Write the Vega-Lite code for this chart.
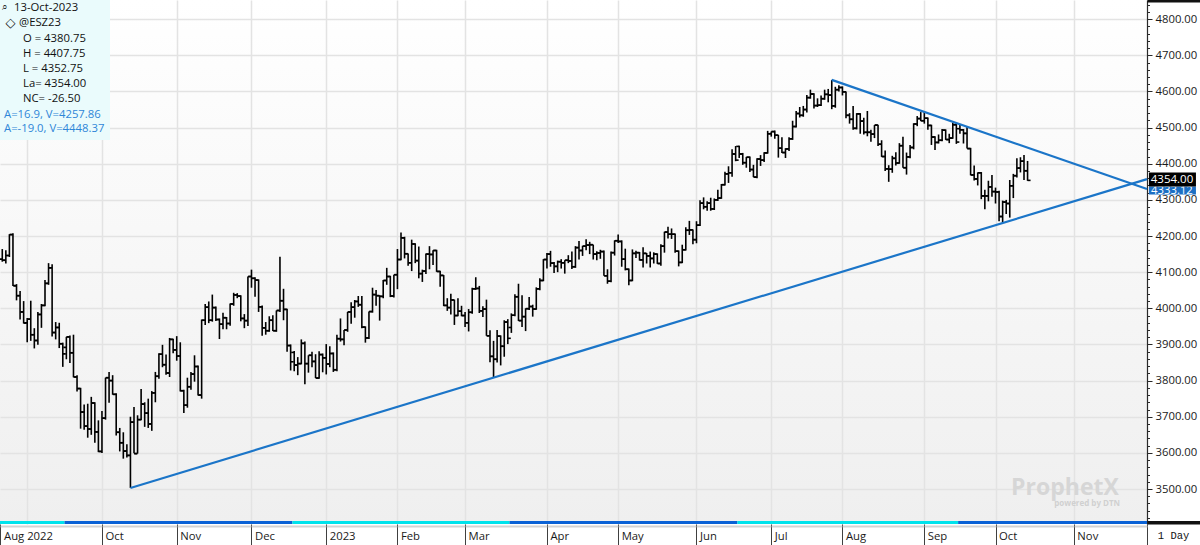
{
"$schema":"https://vega.github.io/schema/vega-lite/v6.json",
"width":1147,"height":524,
"autosize":{"type":"none"},
"padding":{"left":0,"top":0,"right":53,"bottom":21},
"background":"#ffffff",
"config":{"view":{"stroke":null,"fill":{"gradient":"linear","x1":0,"y1":0,"x2":0,"y2":1,"stops":[{"offset":0,"color":"#ffffff"},{"offset":1,"color":"#efefef"}]}},"font":"Open Sans"},
"datasets":{
"contracts":[{"a":-7.64,"b":10.5,"k":"c"},{"a":10.5,"b":74.5,"k":"b"},{"a":74.5,"b":135.5,"k":"c"},{"a":135.5,"b":199.5,"k":"b"},{"a":199.5,"b":261.5,"k":"c"},{"a":261.5,"b":314.55,"k":"b"}],
"lines":[{"k":"lo","i":29,"p":3503},{"k":"lo","i":314.55,"p":4357.5},{"k":"up","i":226,"p":4632},{"k":"up","i":314.55,"p":4330}],
"bars":[
{"i":-7,"o":4136,"h":4164,"l":4129,"c":4133},{"i":-6,"o":4133,"h":4161,"l":4124,"c":4146},{"i":-5,"o":4146,"h":4205,"l":4142,"c":4204},{"i":-4,"o":4204,"h":4208,"l":4062,"c":4063},{"i":-3,"o":4062,"h":4067,"l":4022,"c":4035},{"i":-2,"o":4035,"h":4048,"l":3969,"c":3990},{"i":-1,"o":3990,"h":4020,"l":3958,"c":3959},
{"i":0,"o":3960,"h":3973,"l":3906,"c":3970},{"i":1,"o":3970,"h":4021,"l":3910,"c":3927},{"i":2,"o":3927,"h":3945,"l":3889,"c":3911},{"i":3,"o":3911,"h":3990,"l":3899,"c":3983},{"i":4,"o":3983,"h":4012,"l":3946,"c":4008},{"i":5,"o":4008,"h":4078,"l":4006,"c":4069},{"i":6,"o":4069,"h":4125,"l":4065,"c":4112},{"i":7,"o":4112,"h":4122,"l":3922,"c":3933},{"i":8,"o":3933,"h":3962,"l":3914,"c":3947},{"i":9,"o":3947,"h":3960,"l":3890,"c":3902},{"i":10,"o":3902,"h":3905,"l":3838,"c":3874},
{"i":11,"o":3892,"h":3921,"l":3859,"c":3921},{"i":12,"o":3921,"h":3925,"l":3849,"c":3877},{"i":13,"o":3877,"h":3927,"l":3809,"c":3810},{"i":14,"o":3810,"h":3815,"l":3770,"c":3778},{"i":15,"o":3778,"h":3780,"l":3667,"c":3713},{"i":16,"o":3713,"h":3734,"l":3664,"c":3674},{"i":17,"o":3674,"h":3736,"l":3642,"c":3666},{"i":18,"o":3666,"h":3755,"l":3650,"c":3738},{"i":19,"o":3738,"h":3740,"l":3628,"c":3658},{"i":20,"o":3658,"h":3690,"l":3602,"c":3604},
{"i":21,"o":3604,"h":3716,"l":3600,"c":3696},{"i":22,"o":3696,"h":3808,"l":3692,"c":3808},{"i":23,"o":3808,"h":3824,"l":3739,"c":3800},{"i":24,"o":3800,"h":3815,"l":3761,"c":3762},{"i":25,"o":3762,"h":3765,"l":3648,"c":3657},{"i":26,"o":3657,"h":3669,"l":3604,"c":3628},{"i":27,"o":3628,"h":3657,"l":3584,"c":3605},{"i":28,"o":3605,"h":3624,"l":3587,"c":3593},{"i":29,"o":3593,"h":3700,"l":3503,"c":3685},{"i":30,"o":3685,"h":3727,"l":3599,"c":3598},{"i":31,"o":3598,"h":3704,"l":3598,"c":3692},{"i":32,"o":3692,"h":3777,"l":3690,"c":3735},{"i":33,"o":3735,"h":3740,"l":3672,"c":3710},{"i":34,"o":3710,"h":3750,"l":3669,"c":3680},{"i":35,"o":3680,"h":3771,"l":3661,"c":3766},{"i":36,"o":3766,"h":3824,"l":3740,"c":3812},{"i":37,"o":3812,"h":3876,"l":3805,"c":3873},{"i":38,"o":3873,"h":3899,"l":3837,"c":3844},{"i":39,"o":3844,"h":3872,"l":3816,"c":3821},{"i":40,"o":3821,"h":3918,"l":3810,"c":3914},{"i":41,"o":3914,"h":3916,"l":3876,"c":3885},
{"i":42,"o":3885,"h":3923,"l":3855,"c":3868},{"i":43,"o":3868,"h":3906,"l":3770,"c":3772},{"i":44,"o":3772,"h":3775,"l":3710,"c":3732},{"i":45,"o":3732,"h":3808,"l":3725,"c":3783},{"i":46,"o":3783,"h":3824,"l":3775,"c":3818},{"i":47,"o":3818,"h":3870,"l":3797,"c":3839},{"i":48,"o":3839,"h":3842,"l":3759,"c":3760},{"i":49,"o":3760,"h":3969,"l":3750,"c":3967},{"i":50,"o":3967,"h":4012,"l":3954,"c":4003},{"i":51,"o":4003,"h":4019,"l":3959,"c":3967},{"i":52,"o":3967,"h":4038,"l":3963,"c":4002},{"i":53,"o":4002,"h":4005,"l":3965,"c":3969},{"i":54,"o":3969,"h":3972,"l":3915,"c":3956},{"i":55,"o":3956,"h":3988,"l":3942,"c":3974},{"i":56,"o":3974,"h":3976,"l":3942,"c":3958},{"i":57,"o":3958,"h":4013,"l":3952,"c":4012},{"i":58,"o":4012,"h":4043,"l":4007,"c":4037},{"i":59,"o":4037,"h":4042,"l":4028,"c":4034},{"i":60,"o":4034,"h":4036,"l":3964,"c":3972},{"i":61,"o":3972,"h":3984,"l":3945,"c":3966},{"i":62,"o":3966,"h":4088,"l":3951,"c":4088},
{"i":63,"o":4088,"h":4107,"l":4057,"c":4083},{"i":64,"o":4083,"h":4086,"l":4032,"c":4078},{"i":65,"o":4078,"h":4080,"l":3990,"c":4004},{"i":66,"o":4004,"h":4008,"l":3924,"c":3946},{"i":67,"o":3946,"h":3962,"l":3927,"c":3938},{"i":68,"o":3938,"h":3978,"l":3935,"c":3967},{"i":69,"o":3967,"h":3981,"l":3937,"c":3938},{"i":70,"o":3938,"h":3994,"l":3935,"c":3994},{"i":71,"o":3994,"h":4143,"l":3990,"c":4021},{"i":72,"o":4021,"h":4054,"l":3967,"c":3997},{"i":73,"o":3997,"h":3999,"l":3880,"c":3897},{"i":74,"o":3897,"h":3900,"l":3828,"c":3852},
{"i":75,"o":3878,"h":3882,"l":3826,"c":3843},{"i":76,"o":3843,"h":3865,"l":3815,"c":3847},{"i":77,"o":3847,"h":3914,"l":3845,"c":3903},{"i":78,"o":3903,"h":3908,"l":3790,"c":3847},{"i":79,"o":3847,"h":3870,"l":3822,"c":3870},{"i":80,"o":3870,"h":3880,"l":3837,"c":3853},{"i":81,"o":3853,"h":3873,"l":3807,"c":3807},{"i":82,"o":3807,"h":3881,"l":3805,"c":3872},{"i":83,"o":3872,"h":3875,"l":3823,"c":3863},
{"i":84,"o":3863,"h":3901,"l":3817,"c":3846},{"i":85,"o":3846,"h":3895,"l":3837,"c":3875},{"i":86,"o":3875,"h":3878,"l":3824,"c":3830},{"i":87,"o":3830,"h":3927,"l":3826,"c":3916},{"i":88,"o":3916,"h":3972,"l":3908,"c":3914},{"i":89,"o":3914,"h":3940,"l":3898,"c":3940},{"i":90,"o":3940,"h":3990,"l":3935,"c":3990},{"i":91,"o":3990,"h":4017,"l":3957,"c":4003},{"i":92,"o":4003,"h":4023,"l":3974,"c":4019},{"i":93,"o":4019,"h":4034,"l":4004,"c":4010},{"i":94,"o":4010,"h":4034,"l":3945,"c":3948},{"i":95,"o":3948,"h":3950,"l":3905,"c":3918},{"i":96,"o":3918,"h":3991,"l":3915,"c":3991},{"i":97,"o":3991,"h":4057,"l":3988,"c":4038},{"i":98,"o":4038,"h":4051,"l":4007,"c":4035},{"i":99,"o":4035,"h":4036,"l":3966,"c":4033},{"i":100,"o":4033,"h":4078,"l":4028,"c":4077},{"i":101,"o":4077,"h":4112,"l":4065,"c":4088},{"i":102,"o":4088,"h":4090,"l":4031,"c":4034},{"i":103,"o":4034,"h":4093,"l":4030,"c":4093},
{"i":104,"o":4093,"h":4164,"l":4053,"c":4135},{"i":105,"o":4135,"h":4210,"l":4133,"c":4195},{"i":106,"o":4195,"h":4198,"l":4138,"c":4151},{"i":107,"o":4151,"h":4152,"l":4118,"c":4126},{"i":108,"o":4126,"h":4190,"l":4103,"c":4178},{"i":109,"o":4178,"h":4180,"l":4125,"c":4132},{"i":110,"o":4132,"h":4171,"l":4083,"c":4096},{"i":111,"o":4096,"h":4107,"l":4073,"c":4103},{"i":112,"o":4103,"h":4152,"l":4095,"c":4150},{"i":113,"o":4150,"h":4172,"l":4108,"c":4149},{"i":114,"o":4149,"h":4161,"l":4120,"c":4160},{"i":115,"o":4160,"h":4162,"l":4101,"c":4102},{"i":116,"o":4102,"h":4104,"l":4060,"c":4091},{"i":117,"o":4091,"h":4092,"l":4006,"c":4008},{"i":118,"o":4008,"h":4028,"l":3993,"c":4002},{"i":119,"o":4002,"h":4040,"l":3983,"c":4023},{"i":120,"o":4023,"h":4024,"l":3954,"c":3980},{"i":121,"o":3980,"h":4028,"l":3978,"c":3992},{"i":122,"o":3992,"h":4007,"l":3978,"c":3980},
{"i":123,"o":3980,"h":3990,"l":3948,"c":3960},{"i":124,"o":3960,"h":3998,"l":3936,"c":3989},{"i":125,"o":3989,"h":4057,"l":3985,"c":4054},{"i":126,"o":4054,"h":4086,"l":4051,"c":4055},{"i":127,"o":4055,"h":4062,"l":3987,"c":3993},{"i":128,"o":3993,"h":4006,"l":3976,"c":3998},{"i":129,"o":3998,"h":4024,"l":3924,"c":3924},{"i":130,"o":3924,"h":3939,"l":3851,"c":3867},{"i":131,"o":3867,"h":3910,"l":3808,"c":3859},{"i":132,"o":3859,"h":3940,"l":3850,"c":3923},{"i":133,"o":3923,"h":3925,"l":3842,"c":3895},{"i":134,"o":3895,"h":3967,"l":3866,"c":3962},{"i":135,"o":3962,"h":3970,"l":3901,"c":3917},
{"i":136,"o":3947,"h":3986,"l":3932,"c":3981},{"i":137,"o":3981,"h":4039,"l":3978,"c":4032},{"i":138,"o":4032,"h":4068,"l":3965,"c":3966},{"i":139,"o":3966,"h":4036,"l":3948,"c":3977},{"i":140,"o":3977,"h":4000,"l":3937,"c":3999},{"i":141,"o":3999,"h":4031,"l":3995,"c":4005},{"i":142,"o":4005,"h":4010,"l":3977,"c":3998},{"i":143,"o":3998,"h":4058,"l":3996,"c":4054},{"i":144,"o":4054,"h":4083,"l":4050,"c":4077},{"i":145,"o":4077,"h":4136,"l":4075,"c":4135},
{"i":146,"o":4135,"h":4153,"l":4110,"c":4150},{"i":147,"o":4150,"h":4159,"l":4115,"c":4125},{"i":148,"o":4125,"h":4128,"l":4098,"c":4116},{"i":149,"o":4116,"h":4132,"l":4100,"c":4129},{"i":150,"o":4129,"h":4136,"l":4110,"c":4126},{"i":151,"o":4126,"h":4133,"l":4096,"c":4133},{"i":152,"o":4133,"h":4147,"l":4125,"c":4131},{"i":153,"o":4131,"h":4157,"l":4109,"c":4115},{"i":154,"o":4115,"h":4172,"l":4112,"c":4168},{"i":155,"o":4168,"h":4186,"l":4135,"c":4160},{"i":156,"o":4160,"h":4173,"l":4145,"c":4172},{"i":157,"o":4172,"h":4191,"l":4161,"c":4175},{"i":158,"o":4175,"h":4184,"l":4150,"c":4176},{"i":159,"o":4176,"h":4176,"l":4135,"c":4150},{"i":160,"o":4150,"h":4158,"l":4133,"c":4153},{"i":161,"o":4153,"h":4162,"l":4137,"c":4157},{"i":162,"o":4157,"h":4160,"l":4090,"c":4090},{"i":163,"o":4090,"h":4108,"l":4068,"c":4075},{"i":164,"o":4075,"h":4157,"l":4072,"c":4154},{"i":165,"o":4154,"h":4188,"l":4146,"c":4187},
{"i":166,"o":4187,"h":4204,"l":4181,"c":4185},{"i":167,"o":4185,"h":4188,"l":4115,"c":4136},{"i":168,"o":4136,"h":4165,"l":4105,"c":4108},{"i":169,"o":4108,"h":4110,"l":4064,"c":4077},{"i":170,"o":4077,"h":4163,"l":4075,"c":4152},{"i":171,"o":4152,"h":4159,"l":4139,"c":4154},{"i":172,"o":4154,"h":4156,"l":4132,"c":4134},{"i":173,"o":4134,"h":4169,"l":4113,"c":4152},{"i":174,"o":4152,"h":4153,"l":4124,"c":4145},{"i":175,"o":4145,"h":4157,"l":4113,"c":4138},{"i":176,"o":4138,"h":4155,"l":4124,"c":4150},{"i":177,"o":4150,"h":4152,"l":4123,"c":4124},{"i":178,"o":4124,"h":4177,"l":4118,"c":4172},{"i":179,"o":4172,"h":4212,"l":4154,"c":4211},{"i":180,"o":4211,"h":4226,"l":4193,"c":4205},{"i":181,"o":4205,"h":4221,"l":4192,"c":4205},{"i":182,"o":4205,"h":4207,"l":4154,"c":4158},{"i":183,"o":4158,"h":4160,"l":4116,"c":4127},{"i":184,"o":4127,"h":4176,"l":4125,"c":4162},{"i":185,"o":4162,"h":4224,"l":4160,"c":4216},{"i":186,"o":4216,"h":4242,"l":4203,"c":4217},{"i":187,"o":4217,"h":4218,"l":4177,"c":4190},
{"i":188,"o":4190,"h":4241,"l":4180,"c":4230},{"i":189,"o":4230,"h":4299,"l":4228,"c":4291},{"i":190,"o":4291,"h":4307,"l":4274,"c":4281},{"i":191,"o":4281,"h":4296,"l":4270,"c":4291},{"i":192,"o":4291,"h":4306,"l":4270,"c":4275},{"i":193,"o":4275,"h":4304,"l":4272,"c":4300},{"i":194,"o":4300,"h":4328,"l":4297,"c":4305},{"i":195,"o":4305,"h":4344,"l":4303,"c":4342},{"i":196,"o":4342,"h":4378,"l":4340,"c":4372},{"i":197,"o":4372,"h":4393,"l":4347,"c":4375},{"i":198,"o":4375,"h":4440,"l":4364,"c":4427},{"i":199,"o":4427,"h":4449,"l":4407,"c":4410},
{"i":200,"o":4448,"h":4450,"l":4416,"c":4427},{"i":201,"o":4427,"h":4430,"l":4397,"c":4403},{"i":202,"o":4403,"h":4419,"l":4389,"c":4418},{"i":203,"o":4418,"h":4420,"l":4377,"c":4384},{"i":204,"o":4384,"h":4397,"l":4363,"c":4363},{"i":205,"o":4363,"h":4415,"l":4360,"c":4413},{"i":206,"o":4413,"h":4424,"l":4394,"c":4410},{"i":207,"o":4410,"h":4432,"l":4405,"c":4430},{"i":208,"o":4430,"h":4491,"l":4428,"c":4483},
{"i":209,"o":4483,"h":4489,"l":4475,"c":4489},{"i":210,"o":4489,"h":4492,"l":4469,"c":4479},{"i":211,"o":4479,"h":4480,"l":4417,"c":4443},{"i":212,"o":4443,"h":4473,"l":4430,"c":4431},{"i":213,"o":4431,"h":4443,"l":4416,"c":4441},{"i":214,"o":4441,"h":4473,"l":4435,"c":4469},{"i":215,"o":4469,"h":4519,"l":4466,"c":4503},{"i":216,"o":4503,"h":4546,"l":4500,"c":4539},{"i":217,"o":4539,"h":4557,"l":4528,"c":4534},{"i":218,"o":4534,"h":4560,"l":4530,"c":4550},{"i":219,"o":4550,"h":4590,"l":4542,"c":4583},{"i":220,"o":4583,"h":4605,"l":4580,"c":4593},{"i":221,"o":4593,"h":4595,"l":4553,"c":4561},{"i":222,"o":4561,"h":4581,"l":4557,"c":4562},{"i":223,"o":4562,"h":4589,"l":4560,"c":4580},{"i":224,"o":4580,"h":4605,"l":4577,"c":4592},{"i":225,"o":4592,"h":4607,"l":4570,"c":4590},{"i":226,"o":4590,"h":4632,"l":4551,"c":4560},{"i":227,"o":4560,"h":4613,"l":4555,"c":4605},{"i":228,"o":4605,"h":4617,"l":4600,"c":4611},
{"i":229,"o":4611,"h":4614,"l":4589,"c":4599},{"i":230,"o":4599,"h":4600,"l":4526,"c":4534},{"i":231,"o":4534,"h":4540,"l":4511,"c":4523},{"i":232,"o":4523,"h":4560,"l":4494,"c":4498},{"i":233,"o":4498,"h":4540,"l":4495,"c":4538},{"i":234,"o":4538,"h":4540,"l":4483,"c":4518},{"i":235,"o":4518,"h":4527,"l":4481,"c":4487},{"i":236,"o":4487,"h":4546,"l":4476,"c":4487},{"i":237,"o":4487,"h":4494,"l":4461,"c":4482},{"i":238,"o":4482,"h":4507,"l":4471,"c":4507},{"i":239,"o":4507,"h":4508,"l":4449,"c":4454},{"i":240,"o":4454,"h":4465,"l":4419,"c":4420},{"i":241,"o":4420,"h":4437,"l":4380,"c":4386},{"i":242,"o":4386,"h":4396,"l":4350,"c":4385},{"i":243,"o":4385,"h":4422,"l":4375,"c":4415},{"i":244,"o":4415,"h":4432,"l":4395,"c":4402},{"i":245,"o":4402,"h":4457,"l":4400,"c":4450},{"i":246,"o":4450,"h":4475,"l":4389,"c":4389},{"i":247,"o":4389,"h":4431,"l":4370,"c":4419},{"i":248,"o":4419,"h":4452,"l":4415,"c":4445},{"i":249,"o":4445,"h":4512,"l":4440,"c":4510},{"i":250,"o":4510,"h":4532,"l":4504,"c":4525},{"i":251,"o":4525,"h":4543,"l":4518,"c":4519},
{"i":252,"o":4519,"h":4545,"l":4511,"c":4526},{"i":253,"o":4526,"h":4528,"l":4494,"c":4506},{"i":254,"o":4506,"h":4508,"l":4452,"c":4474},{"i":255,"o":4474,"h":4476,"l":4438,"c":4459},{"i":256,"o":4459,"h":4481,"l":4456,"c":4465},{"i":257,"o":4465,"h":4496,"l":4462,"c":4493},{"i":258,"o":4493,"h":4495,"l":4466,"c":4467},{"i":259,"o":4467,"h":4483,"l":4457,"c":4471},{"i":260,"o":4471,"h":4514,"l":4469,"c":4508},{"i":261,"o":4508,"h":4512,"l":4455,"c":4460},
{"i":262,"o":4497,"h":4507,"l":4483,"c":4494},{"i":263,"o":4494,"h":4496,"l":4456,"c":4484},{"i":264,"o":4484,"h":4502,"l":4442,"c":4442},{"i":265,"o":4442,"h":4444,"l":4368,"c":4369},{"i":266,"o":4369,"h":4395,"l":4354,"c":4358},{"i":267,"o":4358,"h":4376,"l":4340,"c":4375},{"i":268,"o":4375,"h":4377,"l":4302,"c":4311},{"i":269,"o":4311,"h":4328,"l":4274,"c":4311},{"i":270,"o":4311,"h":4353,"l":4296,"c":4336},{"i":271,"o":4336,"h":4369,"l":4309,"c":4323},
{"i":272,"o":4323,"h":4334,"l":4290,"c":4322},{"i":273,"o":4322,"h":4325,"l":4241,"c":4254},{"i":274,"o":4254,"h":4298,"l":4237,"c":4294},{"i":275,"o":4294,"h":4300,"l":4261,"c":4290},{"i":276,"o":4290,"h":4355,"l":4251,"c":4339},{"i":277,"o":4339,"h":4372,"l":4305,"c":4367},{"i":278,"o":4367,"h":4415,"l":4362,"c":4388},{"i":279,"o":4388,"h":4418,"l":4376,"c":4407},{"i":280,"o":4407,"h":4424,"l":4355,"c":4380.5},{"i":281,"o":4380.75,"h":4407.75,"l":4352.75,"c":4354}
]},
"resolve":{"axis":{"x":"independent","y":"independent"}},
"layer":[
{"data":{"name":"contracts"},"mark":{"type":"rect"},
 "encoding":{"x":{"field":"a","type":"quantitative","scale":{"domain":[-7.64,314.55],"nice":false,"zero":false},"axis":null},"x2":{"field":"b"},
 "y":{"datum":3403.2,"type":"quantitative","scale":{"domain":[3403.2,4853.1],"nice":false,"zero":false},"axis":null},"y2":{"datum":3411.5},
 "color":{"field":"k","type":"nominal","scale":{"domain":["c","b"],"range":["#00e3ec","#0a62d6"]},"legend":null}}},
{"data":{"name":"bars"},"mark":{"type":"rule","color":"#000000","strokeWidth":1.6},
 "encoding":{"x":{"field":"i","type":"quantitative","scale":{"domain":[-7.64,314.55],"nice":false,"zero":false},
   "axis":{"orient":"bottom","values":[-7.5,0,21,42,63,84,104,123,146,166,188,209,229,252,272,294,314.5],"title":null,"labels":false,"domain":false,"ticks":true,"tickSize":21,"tickColor":"#404040","tickWidth":1,
     "tickOpacity":{"condition":{"test":"datum.value === 0","value":0},"value":1},
     "grid":true,"gridColor":"#e3e3e3","gridWidth":1.5,
     "gridOpacity":{"condition":{"test":"datum.value < 0 || datum.value > 300","value":0},"value":1}}},
  "y":{"field":"l","type":"quantitative","scale":{"domain":[3403.2,4853.1],"nice":false,"zero":false},
   "axis":{"orient":"right","values":[3500,3600,3700,3800,3900,4000,4100,4200,4300,4400,4500,4600,4700,4800],"format":".2f","title":null,"grid":true,"gridColor":"#e3e3e3","gridWidth":1.5,"domain":true,"domainColor":"#2a2a2a","domainWidth":1.2,"ticks":true,"tickSize":5,"tickColor":"#2a2a2a","tickWidth":1,"labelPadding":3,"labelFont":"Open Sans","labelFontSize":11.3,"labelColor":"#1a1a1a","labelOverlap":false,"labelFlush":false,"labelBaseline":"middle"}},
  "y2":{"field":"h"}}},
{"data":{"name":"bars"},"mark":{"type":"tick","orient":"horizontal","color":"#000000","size":3,"thickness":1.6,"xOffset":-1.5,"opacity":1},
 "encoding":{"x":{"field":"i","type":"quantitative","scale":{"domain":[-7.64,314.55],"nice":false,"zero":false},
   "axis":{"orient":"bottom","values":[-7.5,21,42,63,84,104,123,146,166,188,209,229,252,272,294],"title":null,"ticks":false,"grid":false,"domain":true,"domainColor":"#a8a8a8","domainWidth":2,"domainDash":[1,1],"offset":2,
     "labelExpr":"datum.value < 0 ? 'Aug 2022' : datum.value == 21 ? 'Oct' : datum.value == 42 ? 'Nov' : datum.value == 63 ? 'Dec' : datum.value == 84 ? '2023' : datum.value == 104 ? 'Feb' : datum.value == 123 ? 'Mar' : datum.value == 146 ? 'Apr' : datum.value == 166 ? 'May' : datum.value == 188 ? 'Jun' : datum.value == 209 ? 'Jul' : datum.value == 229 ? 'Aug' : datum.value == 252 ? 'Sep' : datum.value == 272 ? 'Oct' : 'Nov'",
     "labelAlign":"left","labelBaseline":"middle","labelOffset":3,"labelPadding":10,"labelOverlap":false,"labelFlush":false,"labelBound":false,"labelFont":"Open Sans","labelFontSize":11.3,"labelColor":"#1a1a1a"}},
  "y":{"field":"o","type":"quantitative","scale":{"domain":[3403.2,4853.1],"nice":false,"zero":false},
   "axis":{"orient":"right","values":[3420,3440,3460,3480,3500,3520,3540,3560,3580,3600,3620,3640,3660,3680,3700,3720,3740,3760,3780,3800,3820,3840,3860,3880,3900,3920,3940,3960,3980,4000,4020,4040,4060,4080,4100,4120,4140,4160,4180,4200,4220,4240,4260,4280,4300,4320,4340,4360,4380,4400,4420,4440,4460,4480,4500,4520,4540,4560,4580,4600,4620,4640,4660,4680,4700,4720,4740,4760,4780,4800,4820,4840],"title":null,"labels":false,"grid":false,"domain":false,"ticks":true,"tickSize":2.5,"tickColor":"#2a2a2a","tickWidth":1}}}},
{"data":{"name":"bars"},"mark":{"type":"tick","orient":"horizontal","color":"#000000","size":3,"thickness":1.6,"xOffset":1.5,"opacity":1},
 "encoding":{"x":{"field":"i","type":"quantitative","scale":{"domain":[-7.64,314.55],"nice":false,"zero":false},"axis":null},
  "y":{"field":"c","type":"quantitative","scale":{"domain":[3403.2,4853.1],"nice":false,"zero":false},"axis":null}}},
{"data":{"name":"lines"},"mark":{"type":"line","color":"#1b75c8","strokeWidth":2.2},
 "encoding":{"x":{"field":"i","type":"quantitative","scale":{"domain":[-7.64,314.55],"nice":false,"zero":false},"axis":null},
  "y":{"field":"p","type":"quantitative","scale":{"domain":[3403.2,4853.1],"nice":false,"zero":false},"axis":null},"detail":{"field":"k"}}},
{"data":{"values":[{}]},"mark":{"type":"rect","color":"#eafbfc"},
 "encoding":{"x":{"datum":-7.64,"type":"quantitative","axis":null},"x2":{"datum":23.26},"y":{"datum":4465.7,"type":"quantitative","axis":null},"y2":{"datum":4853.1}}},
{"data":{"values":[{}]},"mark":{"type":"text","text":"⌕","align":"left","baseline":"middle","font":"DejaVu Sans","fontSize":10,"color":"#111111"},
 "encoding":{"x":{"datum":-7.2,"type":"quantitative","axis":null},"y":{"datum":4834,"type":"quantitative","axis":null}}},
{"data":{"values":[{}]},"mark":{"type":"text","text":"13-Oct-2023","align":"left","baseline":"middle","font":"Open Sans","fontSize":11.3,"color":"#111111"},
 "encoding":{"x":{"datum":-3.71,"type":"quantitative","axis":null},"y":{"datum":4831.5,"type":"quantitative","axis":null}}},
{"data":{"values":[{}]},"mark":{"type":"text","text":"◇","align":"left","baseline":"middle","font":"DejaVu Sans","fontSize":13,"fontWeight":"bold","color":"#111111"},
 "encoding":{"x":{"datum":-6.1,"type":"quantitative","axis":null},"y":{"datum":4788.6,"type":"quantitative","axis":null}}},
{"data":{"values":[{}]},"mark":{"type":"text","text":"@ESZ23","align":"left","baseline":"middle","font":"Open Sans","fontSize":11.3,"color":"#111111"},
 "encoding":{"x":{"datum":-2.3,"type":"quantitative","axis":null},"y":{"datum":4788.6,"type":"quantitative","axis":null}}},
{"data":{"values":[{}]},"mark":{"type":"text","text":["O = 4380.75","H = 4407.75","L = 4352.75","La= 4354.00","NC= -26.50"],"lineHeight":14.9,"align":"left","baseline":"middle","font":"Open Sans","fontSize":11.3,"color":"#111111"},
 "encoding":{"x":{"datum":-1.18,"type":"quantitative","axis":null},"y":{"datum":4744.3,"type":"quantitative","axis":null}}},
{"data":{"values":[{}]},"mark":{"type":"text","text":["A=16.9, V=4257.86","A=-19.0, V=4448.37"],"lineHeight":13.8,"align":"left","baseline":"middle","font":"Open Sans","fontSize":11.3,"color":"#2f86d8"},
 "encoding":{"x":{"datum":-6.52,"type":"quantitative","axis":null},"y":{"datum":4535.7,"type":"quantitative","axis":null}}},
{"data":{"values":[{}]},"mark":{"type":"text","text":"ProphetX","align":"center","baseline":"alphabetic","font":"Open Sans","fontSize":23,"fontWeight":"bold","color":"#d6d6d6"},
 "encoding":{"x":{"datum":291.5,"type":"quantitative","axis":null},"y":{"datum":3483.4,"type":"quantitative","axis":null}}},
{"data":{"values":[{}]},"mark":{"type":"text","text":"powered by DTN","align":"right","baseline":"middle","font":"Open Sans","fontSize":8,"fontWeight":"bold","color":"#d0d0d0"},
 "encoding":{"x":{"datum":307,"type":"quantitative","axis":null},"y":{"datum":3458.5,"type":"quantitative","axis":null}}},
{"data":{"values":[{}]},"mark":{"type":"rect","color":"#111111"},
 "encoding":{"x":{"datum":314.7,"type":"quantitative","axis":null},"x2":{"datum":329.5},"y":{"datum":4846.2,"type":"quantitative","axis":null},"y2":{"datum":4853.1}}},
{"data":{"values":[{}]},"mark":{"type":"rect","color":"#111111"},
 "encoding":{"x":{"datum":314.7,"type":"quantitative","axis":null},"x2":{"datum":329.5},"y":{"datum":3401.8,"type":"quantitative","axis":null},"y2":{"datum":3411.5}}},
{"data":{"values":[{}]},"mark":{"type":"text","text":"1 Day","align":"left","baseline":"middle","font":"Liberation Mono","fontSize":10.5,"color":"#111111"},
 "encoding":{"x":{"datum":317.6,"type":"quantitative","axis":null},"y":{"datum":3369.9,"type":"quantitative","axis":null}}},
{"data":{"values":[{}]},"mark":{"type":"rect","color":"#1c6fc4"},
 "encoding":{"x":{"datum":315.1,"type":"quantitative","axis":null},"x2":{"datum":328.3},"y":{"datum":4314.9,"type":"quantitative","axis":null},"y2":{"datum":4337.0}}},
{"data":{"values":[{}]},"mark":{"type":"text","text":"4333.12","align":"left","baseline":"middle","font":"Open Sans","fontSize":11.3,"color":"#ffffff"},
 "encoding":{"x":{"datum":315.7,"type":"quantitative","axis":null},"y":{"datum":4324.6,"type":"quantitative","axis":null}}},
{"data":{"values":[{}]},"mark":{"type":"rect","color":"#000000"},
 "encoding":{"x":{"datum":315.1,"type":"quantitative","axis":null},"x2":{"datum":328.3},"y":{"datum":4337.0,"type":"quantitative","axis":null},"y2":{"datum":4375.8}}},
{"data":{"values":[{}]},"mark":{"type":"text","text":"4354.00","align":"left","baseline":"middle","font":"Open Sans","fontSize":11.5,"color":"#ffffff"},
 "encoding":{"x":{"datum":315.6,"type":"quantitative","axis":null},"y":{"datum":4356.4,"type":"quantitative","axis":null}}}
]
}
